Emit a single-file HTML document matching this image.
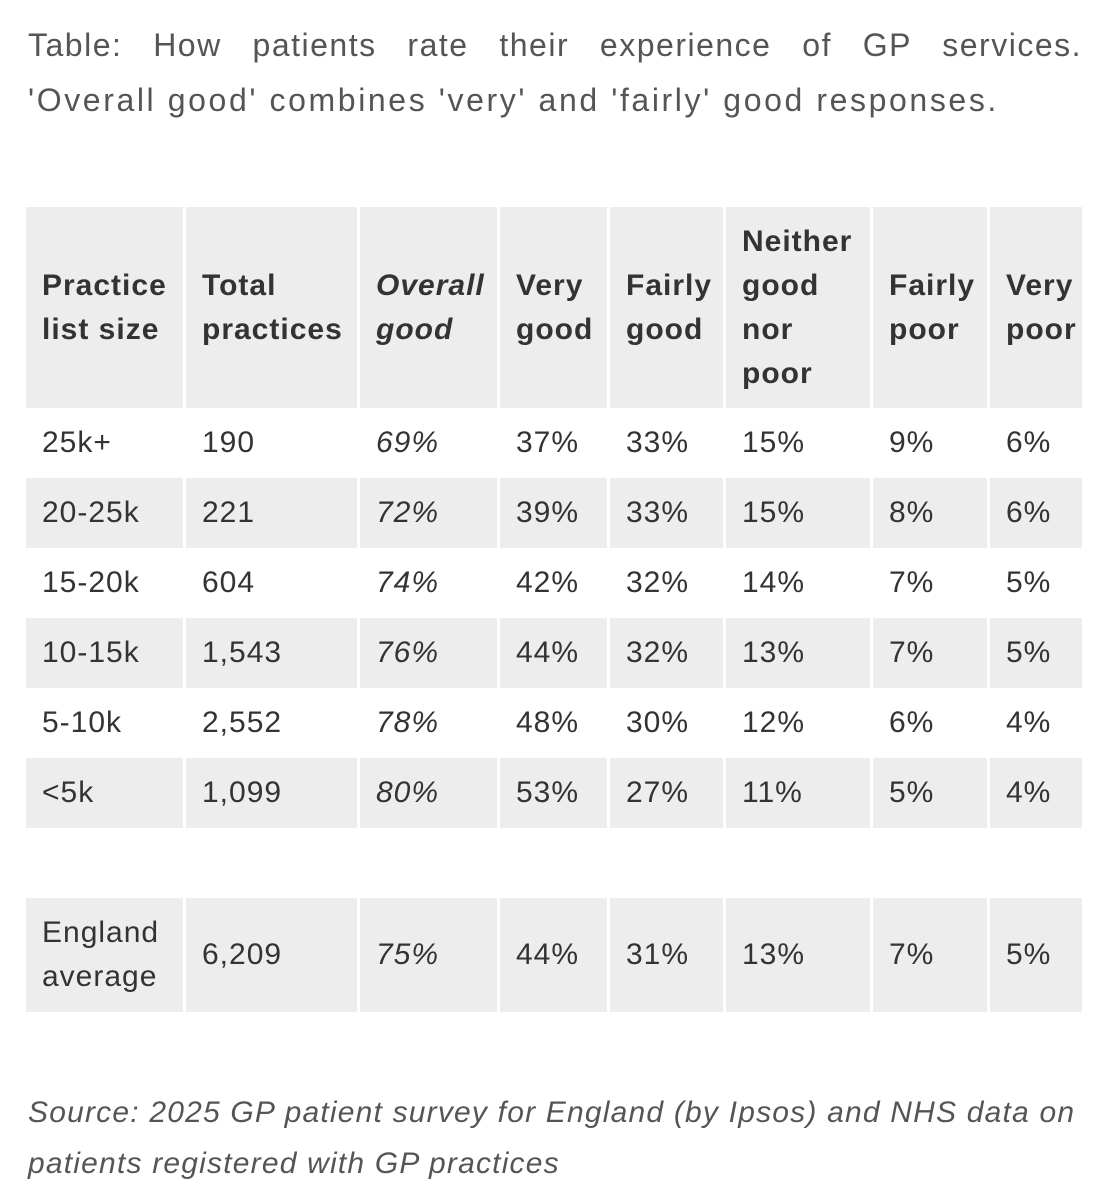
<!DOCTYPE html>
<html><head><meta charset="utf-8"><style>
body{margin:0;width:1108px;height:1200px;background:#fff;position:relative;overflow:hidden;font-family:"Liberation Sans",Arial,sans-serif;color:#333}
.t{position:absolute;left:28px;font-size:32px;color:#555;line-height:55px;width:1054px;text-align:justify;text-align-last:justify;letter-spacing:1.5px;white-space:nowrap}
.c{position:absolute;box-sizing:border-box;padding-left:16px;display:flex;align-items:center;font-size:30px;line-height:44px;letter-spacing:1px;white-space:nowrap}
.h{font-weight:bold}
.s{position:absolute;left:28px;font-size:30px;font-style:italic;color:#555;line-height:51px;letter-spacing:1.2px;white-space:nowrap}
</style></head><body>
<div class="t" style="top:18px;white-space:normal;height:55px;overflow:hidden">Table: How patients rate their experience of GP services.</div>
<div class="t" style="top:73px;text-align:left;text-align-last:left;letter-spacing:2.6px">'Overall good' combines 'very' and 'fairly' good responses.</div>
<div id="tbl"></div>
<div class="s" style="top:1087px">Source: 2025 GP patient survey for England (by Ipsos) and NHS data on<br>patients registered with GP practices</div>
<script>
const headers=["Practice<br>list size","Total<br>practices","<i>Overall<br>good</i>","Very<br>good","Fairly<br>good","Neither<br>good<br>nor<br>poor","Fairly<br>poor","Very<br>poor"];
const sizes=["25k+","20-25k","15-20k","10-15k","5-10k","<5k"];
const totals=["190","221","604","1,543","2,552","1,099"];
const overall=[69,72,74,76,78,80];
const veryGood=[37,39,42,44,48,53];
const fairlyGood=[33,33,32,32,30,27];
const neither=[15,15,14,13,12,11];
const fairlyPoor=[9,8,7,7,6,5];
const veryPoor=[6,6,5,5,4,4];
const avg=["England<br>average","6,209",75,44,31,13,7,5];
const colX=[26,186,360,500,610,726,873,990,1085];
const tbl=document.getElementById('tbl');
function cell(x0,x1,y0,y1,html,gray,cls,name){
  const d=document.createElement('div');
  d.className='c '+(cls||'');
  d.style.left=x0+'px';d.style.width=(x1-x0-3)+'px';
  d.style.top=y0+'px';d.style.height=(y1-y0)+'px';
  if(gray)d.style.background='#ededed';
  d.innerHTML=html;
  
  
  tbl.appendChild(d);
}
headers.forEach((h,i)=>cell(colX[i],colX[i+1],207,408,'<div>'+h+'</div>',true,'h','header-cell'));
sizes.forEach((s,r)=>{
  const y0=408+r*70,y1=y0+70,g=r%2==1;
  const vals=[s,totals[r],'<i>'+overall[r]+'%</i>',veryGood[r]+'%',fairlyGood[r]+'%',neither[r]+'%',fairlyPoor[r]+'%',veryPoor[r]+'%'];
  vals.forEach((v,i)=>cell(colX[i],colX[i+1],y0,y1,v.replace('<5k','&lt;5k'),g,'','data-cell'));
});
avg.forEach((v,i)=>{
  const t=i<2?v:(i==2?'<i>'+v+'%</i>':v+'%');
  cell(colX[i],colX[i+1],898,1012,'<div>'+t+'</div>',true,'','england-average-cell');
});
</script>
</body></html>
